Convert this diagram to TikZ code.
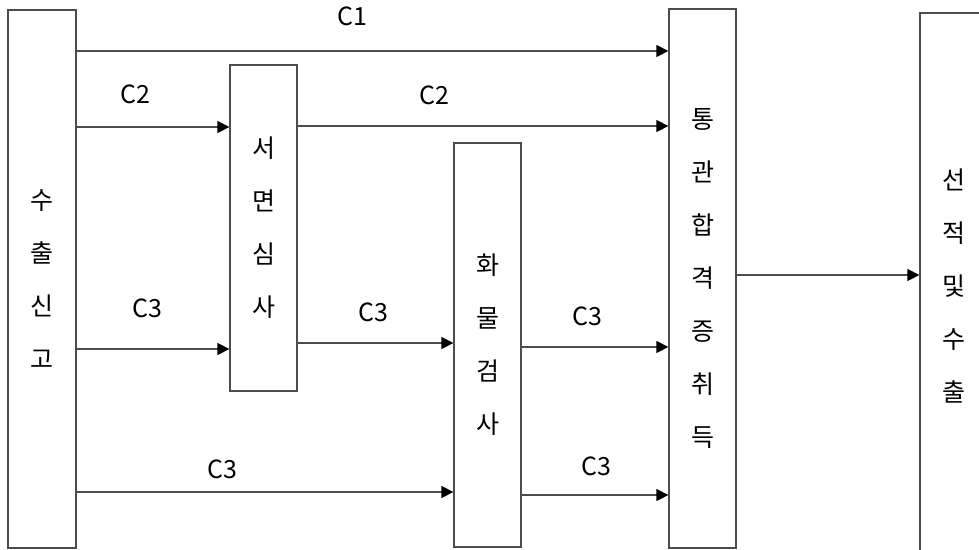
\documentclass[tikz,border=0pt]{standalone}
\usepackage{fontspec}
\usepackage{tikz}
\usepackage{color}
\usetikzlibrary{arrows.meta}
\newfontfamily\krfont{Noto Sans CJK KR}
\definecolor{linegray}{rgb}{0.3, 0.3, 0.3}
\tikzset{
  stagebox/.style={draw=linegray, line width=1.3pt, inner sep=0pt, align=center,
    minimum width=67pt, font=\krfont\fontsize{25}{53}\selectfont},
  flow/.style={linegray, line width=1.4pt, -{Triangle[length=12pt, width=12pt, black]}},
  lab/.style={inner sep=0pt, font=\krfont\fontsize{25}{28}\selectfont}
}
\begin{document}
\begin{tikzpicture}[x=1pt, y=-1pt]
    \useasboundingbox (0,0) rectangle (979,549);

    \node [stagebox, minimum width=68pt, minimum height=538pt] (sg) at (42,279) {수\\출\\신\\고};
    \node [stagebox, minimum height=326pt] (sm) at (263.5,228) {서\\면\\심\\사};
    \node [stagebox, minimum height=404pt] (hm) at (487.5,345) {화\\물\\검\\사};
    \node [stagebox, minimum height=539pt] (th) at (702.5,278.5) {통\\관\\합\\격\\증\\취\\득};
    \node [stagebox, minimum width=68pt, minimum height=547pt] (sj) at (954,286.5) {선\\적\\및\\수\\출};

    \foreach \s/\t/\r in {sg/th/51, sg/sm/127, sm/th/126, sg/sm/349, sm/hm/343,
                          hm/th/347, sg/hm/492, hm/th/495, th/sj/275}{
      \draw [flow] (\s.east |- 0,\r) -- (\t.west |- 0,\r);
    }

    \node [lab] (c1) at (352,16) {C1};
    \node [lab] (c2a) at (135,94) {C2};
    \node [lab] (c2b) at (434,95) {C2};
    \node [lab] (c3a) at (147,308) {C3};
    \node [lab] (c3b) at (373,312) {C3};
    \node [lab] (c3c) at (587,316) {C3};
    \node [lab] (c3d) at (222,469) {C3};
    \node [lab] (c3e) at (596,466) {C3};
  \end{tikzpicture}
\end{document}
